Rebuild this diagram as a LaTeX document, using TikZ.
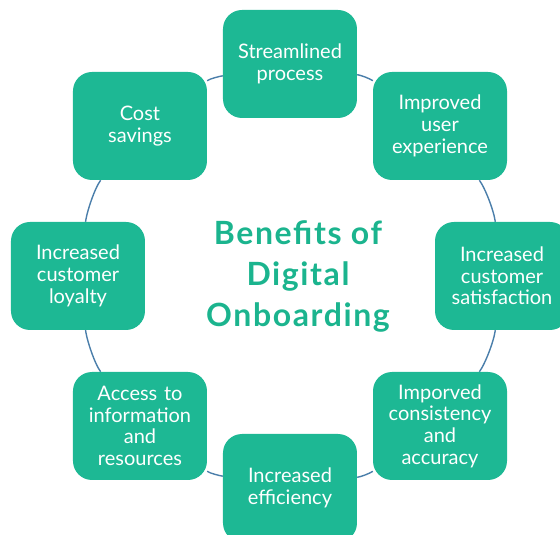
\documentclass[tikz,border=0pt]{standalone}
\usepackage{fontspec}
\setmainfont{Lato}
\newfontfamily\headingfont{Lato}[LetterSpace=5.0]
\usetikzlibrary{backgrounds}

\definecolor{tealbox}{HTML}{1DB894}
\definecolor{titleteal}{HTML}{1BB48E}
\definecolor{ringline}{HTML}{4A7EAA}

\begin{document}
\begin{tikzpicture}[x=1pt,y=1pt,
  benefit/.style={rectangle, rounded corners=19pt, fill=tealbox,
    minimum width=134pt, minimum height=108pt, inner sep=0pt,
    text width=128pt, align=center, text=white,
    font=\fontsize{20}{21.7}\selectfont},
  link/.style={draw=ringline, line width=1.4pt, looseness=0.6},
  heading/.style={align=center, text=titleteal,
    font=\headingfont\fontsize{32}{41}\selectfont\bfseries}]

% page frame, ring centre at the origin
\useasboundingbox (-290,-259) rectangle (270,276);
\clip (-290,-259) rectangle (270,276);

% centre title
\node[heading] (title) at (8,0) {Benefits of\\Digital\\Onboarding};

% eight benefits placed on a ring of radius 212
\node[benefit] (stream) at (0,212)     {Streamlined\\process};
\node[benefit] (ux)     at (150,150)   {Improved\\user\\experience};
\node[benefit] (sat)    at (212,0)     {Increased\\customer\\satisfaction};
\node[benefit] (cons)   at (150,-150)  {Imporved\\consistency\\and\\accuracy};
\node[benefit] (eff)    at (0,-212)    {Increased\\efficiency};
\node[benefit] (access) at (-150,-150) {Access to\\information\\and\\resources};
\node[benefit] (loyal)  at (-212,0)    {Increased\\customer\\loyalty};
\node[benefit] (cost)   at (-150,150)  {Cost\\savings};

% ring segments between neighbouring boxes
\begin{scope}[on background layer]
  \draw[link] (stream) to[out=-9.2,  in=146]    (ux);
  \draw[link] (ux)     to[out=-54,   in=97.4]   (sat);
  \draw[link] (sat)    to[out=-97.4, in=54]     (cons);
  \draw[link] (cons)   to[out=-146,  in=9.2]    (eff);
  \draw[link] (eff)    to[out=170.8, in=-34]    (access);
  \draw[link] (access) to[out=126,   in=-82.6]  (loyal);
  \draw[link] (loyal)  to[out=82.6,  in=-126]   (cost);
  \draw[link] (cost)   to[out=34,    in=-170.8] (stream);
\end{scope}
\end{tikzpicture}
\end{document}
